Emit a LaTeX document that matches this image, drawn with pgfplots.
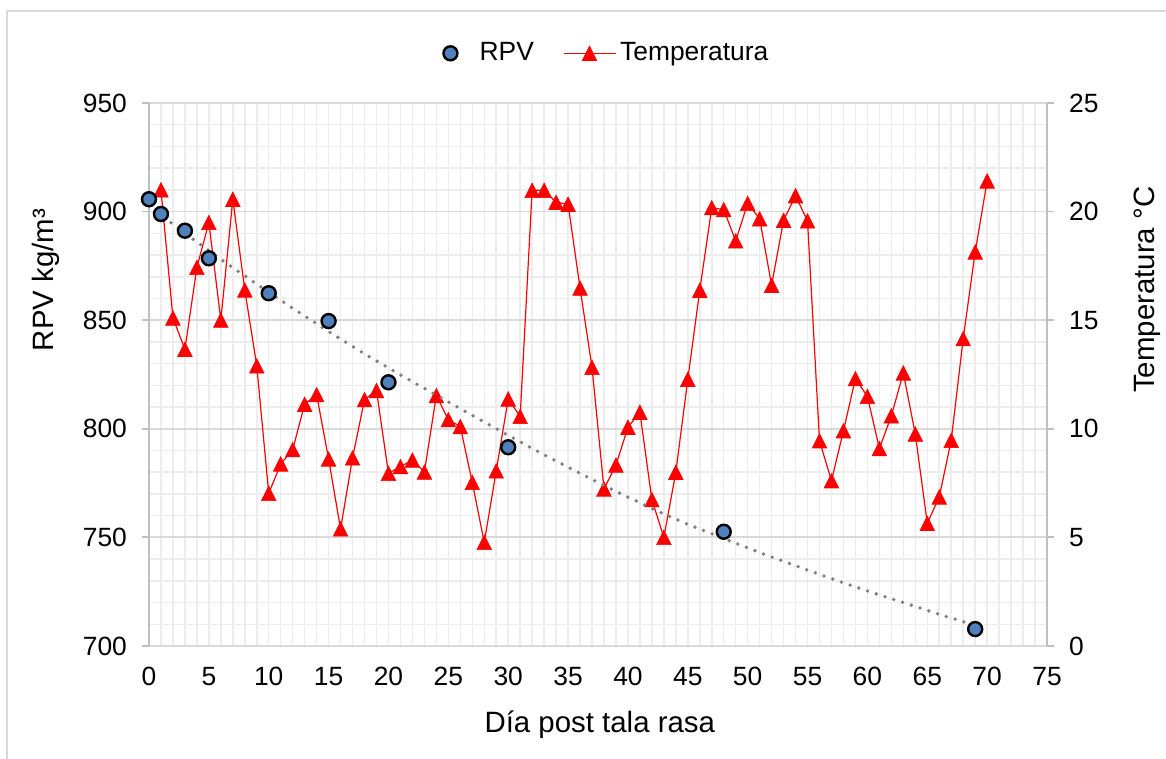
\documentclass[border=0pt]{standalone}
\usepackage{fontspec}
\setmainfont{Liberation Sans}
\usepackage{pgfplots}
\pgfplotsset{compat=1.18}
\definecolor{rpvblue}{HTML}{4F81BD}
\definecolor{gridmaj}{HTML}{D9D9D9}
\definecolor{gridmin}{HTML}{EDEDED}
\definecolor{axisgray}{HTML}{BFBFBF}
\definecolor{trendgray}{HTML}{7F7F7F}
\definecolor{framegray}{HTML}{D9D9D9}
\newcommand{\tickfont}{\fontsize{13.2pt}{15.8pt}\selectfont}
\newcommand{\titlefont}{\fontsize{14.7pt}{17.6pt}\selectfont}
\pgfplotsset{
  base/.style={scale only axis, width=449pt, height=271.5pt, xmin=0, xmax=75,
    at={(0,0)}, anchor=south west,
    /pgf/number format/assume math mode=true,
    tick label style={font=\tickfont},
    major tick length=3.5pt, minor tick length=0pt, tick align=outside,
    tick style={axisgray, line width=0.9pt},
  },
  rpvleg/.style={legend image code/.code={\path[draw=none,fill=none] (-2pt,0pt) -- (18.6pt,0pt);\draw[mark repeat=2,mark phase=2,##1] plot coordinates {(0pt,0pt)(6pt,0pt)(18.6pt,0pt)};}},
  templeg/.style={legend image code/.code={\draw[mark repeat=2,mark phase=2,##1,draw=red,line width=0.6pt] plot coordinates {(0pt,0pt)(13pt,0pt)(26pt,0pt)};}},
}
\begin{document}
\begin{tikzpicture}
\useasboundingbox (-74.5pt,-56.5pt) rectangle (508.5pt,323pt);
\draw[framegray, line width=1pt] (-71pt,-57pt) -- (-71pt,317.5pt) -- (509pt,317.5pt);
% Temperature axis (right) with grid
\begin{axis}[base, ymin=0, ymax=25,
  axis y line*=right, axis x line*=bottom,
  x axis line style={draw=none},
  y axis line style={axisgray, line width=0.9pt},
  xtick={0,5,...,75}, ytick={0,5,...,25},
  minor x tick num=4, minor y tick num=4,
  xtick style={draw=none},
  grid=both,
  major x grid style={gridmin, line width=0.75pt},
  minor x grid style={gridmin, line width=0.75pt},
  major y grid style={gridmaj, line width=0.9pt},
  minor y grid style={gridmin, line width=0.75pt},
  xticklabel style={yshift=-3.6pt},
  yticklabel style={xshift=4pt},
  every axis y label/.style={at={(axis description cs:1.1115,0.656)}, rotate=90, anchor=center, font=\titlefont},
  every axis x label/.style={at={(axis description cs:0.502,-0.1455)}, anchor=center, font=\titlefont},
  ylabel={Temperatura °C}, xlabel={Día post tala rasa},
]
\addplot[red, line width=0.6pt, mark=triangle*, mark size=4.2pt,
  mark options={solid, fill=red, draw=red, line width=0.3pt, yscale=1.15, yshift=-1.05pt}]
coordinates {
(1,21.0)(2,15.1)(3,13.66)(4,17.43)(5,19.5)(6,15.0)(7,20.57)(8,16.39)(9,12.9)(10,7.03)
(11,8.38)(12,9.04)(13,11.13)(14,11.57)(15,8.61)(16,5.39)(17,8.66)(18,11.34)(19,11.76)(20,7.95)
(21,8.26)(22,8.56)(23,8.01)(24,11.53)(25,10.42)(26,10.1)(27,7.53)(28,4.77)(29,8.06)(30,11.37)
(31,10.57)(32,20.98)(33,20.98)(34,20.43)(35,20.34)(36,16.48)(37,12.83)(38,7.23)(39,8.33)(40,10.07)
(41,10.76)(42,6.74)(43,5.0)(44,8.0)(45,12.28)(46,16.38)(47,20.18)(48,20.09)(49,18.65)(50,20.38)
(51,19.67)(52,16.61)(53,19.6)(54,20.73)(55,19.57)(56,9.45)(57,7.61)(58,9.91)(59,12.31)(60,11.49)
(61,9.09)(62,10.6)(63,12.57)(64,9.76)(65,5.65)(66,6.86)(67,9.47)(68,14.15)(69,18.14)(70,21.41)
};
\end{axis}
% RPV axis (left)
\begin{axis}[base, ymin=700, ymax=950,
  axis y line*=left, hide x axis,
  y axis line style={axisgray, line width=0.9pt},
  ytick={700,750,...,950},
  yticklabel style={xshift=-4pt},
  every axis y label/.style={at={(axis description cs:-0.1145,0.674)}, rotate=90, anchor=center, font=\titlefont},
  ylabel={RPV kg/m³},
  legend style={at={(axis description cs:0.506,1.0915)}, anchor=center, draw=none, fill=none,
    font=\tickfont, legend columns=2,
    /tikz/every even column/.append style={column sep=12.5pt}},
]
\addplot[trendgray, line width=1.9pt, line cap=round, dash pattern=on 0pt off 4.6pt, forget plot]
coordinates {
(0,902.5)(3,890)(6,878)(9,866.6)(12,855.5)(15,844.8)(18,834.5)(21,824.8)(24,815.5)(27,806.2)
(30,797)(33,788)(36,779.5)(39,771.2)(42,763.3)(45,756)(48,749.5)(51,743)(54,737)(57,731)
(60,725.3)(63,720)(66,714.6)(69,709.5)
};
\addplot[only marks, mark=*, mark size=3.5pt,
  mark options={fill=rpvblue, draw=black, line width=1.2pt}, rpvleg]
coordinates {
(0,905.7)(1,898.9)(3,891.2)(5,878.5)(10,862.4)(15,849.6)(20,821.4)(30,791.5)(48,752.6)(69,707.8)
};
\addlegendentry{RPV}
\addlegendimage{red, line width=0.6pt, mark=triangle*, mark size=4.2pt,
  mark options={solid, fill=red, draw=red, line width=0.3pt, yscale=1.15, yshift=-1.05pt}, templeg}
\addlegendentry{Temperatura}
\end{axis}
\end{tikzpicture}
\end{document}
